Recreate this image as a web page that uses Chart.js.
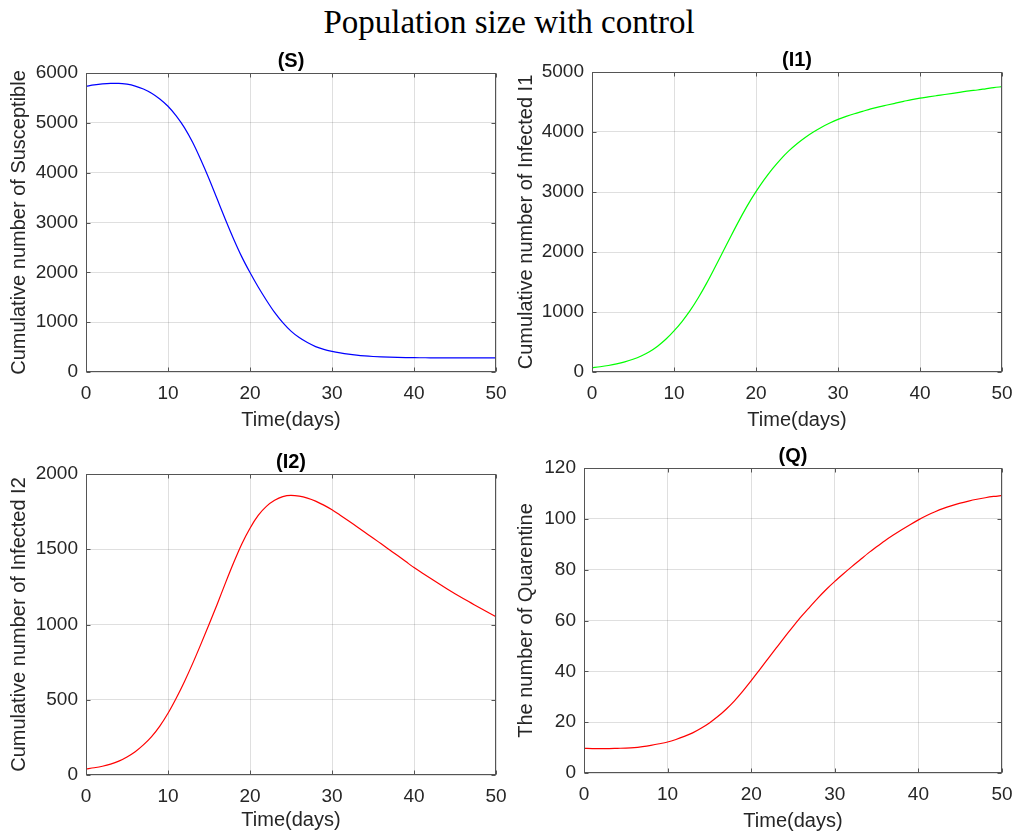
<!DOCTYPE html>
<html>
<head>
<meta charset="utf-8">
<title>Population size with control</title>
<script src="https://cdn.jsdelivr.net/npm/chart.js@4/dist/chart.umd.min.js"></script>
<style>
  body { margin: 0; background: #fff; }
  #wrap { position: relative; width: 1018px; height: 837px; overflow: hidden; }
  #title {
    position: absolute; left: 0; top: 2px; width: 1018px;
    text-align: center; line-height: 40px;
    font-family: "Liberation Serif", "Times New Roman", serif; font-size: 33px; color: #000;
  }
  canvas { position: absolute; }
</style>
</head>
<body>
<div id="wrap">
  <div id="title">Population size with control</div>
  <canvas id="plotS" width="509" height="400" style="left:0;top:40px"></canvas>
  <canvas id="plotI1" width="509" height="400" style="left:509px;top:40px"></canvas>
  <canvas id="plotI2" width="509" height="397" style="left:0;top:440px"></canvas>
  <canvas id="plotQ" width="509" height="397" style="left:509px;top:440px"></canvas>
</div>
<script>
// simulation output, one value per day
var days = [0, 1, 2, 3, 4, 5, 6, 7, 8, 9, 10, 11, 12, 13, 14, 15, 16, 17, 18, 19, 20,
            21, 22, 23, 24, 25, 26, 27, 28, 29, 30, 31, 32, 33, 34, 35, 36, 37, 38, 39, 40,
            41, 42, 43, 44, 45, 46, 47, 48, 49, 50];

var susceptible = [5733, 5762, 5782, 5792, 5793, 5775, 5738, 5680, 5595, 5480, 5333,
                   5140, 4905, 4610, 4260, 3880, 3470, 3060, 2670, 2310, 1995,
                   1705, 1440, 1195, 990, 820, 690, 590, 510, 455, 415,
                   383, 357, 337, 322, 311, 303, 297, 292, 289, 287,
                   286, 285, 285, 284, 284, 284, 283, 283, 283, 283];

var infected1 = [72, 88, 108, 134, 168, 212, 268, 338, 430, 545, 685,
                 845, 1030, 1245, 1485, 1745, 2012, 2280, 2540, 2785, 3005,
                 3205, 3385, 3545, 3685, 3805, 3910, 4000, 4080, 4150, 4210,
                 4260, 4305, 4345, 4385, 4420, 4450, 4480, 4510, 4540, 4565,
                 4585, 4605, 4625, 4645, 4665, 4685, 4700, 4720, 4740, 4755];

var infected2 = [40, 48, 58, 72, 92, 120, 155, 200, 255, 325, 410,
                 510, 620, 740, 868, 1000, 1135, 1275, 1410, 1535, 1640,
                 1725, 1785, 1825, 1850, 1858, 1853, 1840, 1820, 1793, 1762,
                 1726, 1689, 1651, 1613, 1575, 1536, 1497, 1458, 1418, 1378,
                 1342, 1307, 1272, 1238, 1205, 1173, 1142, 1111, 1081, 1052];

var quarantine = [9.7, 9.6, 9.6, 9.6, 9.7, 9.8, 10.0, 10.4, 10.9, 11.5, 12.2,
                  13.2, 14.4, 15.8, 17.6, 19.7, 22.2, 25.1, 28.4, 32.2, 36.3,
                  40.6, 44.9, 49.2, 53.5, 57.6, 61.6, 65.3, 68.9, 72.3, 75.4,
                  78.3, 81.1, 83.8, 86.5, 89.0, 91.4, 93.6, 95.7, 97.7, 99.6,
                  101.3, 102.8, 104.1, 105.2, 106.2, 107.0, 107.7, 108.3, 108.8, 109.2];

var dayTicks = [0, 10, 20, 30, 40, 50];
var sTicks = [0, 1000, 2000, 3000, 4000, 5000, 6000];
var i1Ticks = [0, 1000, 2000, 3000, 4000, 5000];
var i2Ticks = [0, 500, 1000, 1500, 2000];
var qTicks = [0, 20, 40, 60, 80, 100, 120];

var textColor = '#262626';
var gridColor = 'rgba(38,38,38,0.15)';
var fontFamily = '"Liberation Sans", Arial, Helvetica, sans-serif';

// box around the axes, inward tick marks and the bold subplot title
const framePlugin = {
    id: 'frame',
    afterDatasetsDraw(chart, args, opts) {
        const ctx = chart.ctx;
        const c = chart.chartArea;
        const xs = chart.scales.x, ys = chart.scales.y;
        const L = Math.round(c.left) + 0.5, R = Math.round(c.right) - 0.5;
        const T = Math.round(c.top) + 0.5, B = Math.round(c.bottom) - 0.5;
        ctx.save();
        ctx.strokeStyle = opts.boxColor;
        ctx.lineWidth = 1;
        ctx.beginPath();
        xs.ticks.forEach(t => {
            const px = Math.round(xs.getPixelForValue(t.value)) + 0.5;
            ctx.moveTo(px, B); ctx.lineTo(px, B - 4);
            ctx.moveTo(px, T); ctx.lineTo(px, T + 4);
        });
        ys.ticks.forEach(t => {
            const py = Math.round(ys.getPixelForValue(t.value)) + 0.5;
            ctx.moveTo(L, py); ctx.lineTo(L + 4, py);
            ctx.moveTo(R, py); ctx.lineTo(R - 4, py);
        });
        ctx.stroke();
        ctx.strokeRect(L, T, R - L, B - T);

        ctx.fillStyle = '#000';
        ctx.font = 'bold 20px ' + fontFamily;
        ctx.textAlign = 'center';
        ctx.textBaseline = 'alphabetic';
        ctx.fillText(opts.title, (c.left + c.right) / 2, c.top - 6);
        ctx.restore();
    }
};

function makePlot(id, cfg) {
    const canvas = document.getElementById(id);
    const W = canvas.width, H = canvas.height;
    const area = cfg.area;
    const points = days.map((d, i) => ({ x: d, y: cfg.values[i] }));

    return new Chart(canvas.getContext('2d'), {
        type: 'line',
        data: {
            datasets: [{
                data: points,
                borderColor: cfg.color,
                borderWidth: 1.2,
                pointRadius: 0,
                cubicInterpolationMode: 'monotone',
                fill: false
            }]
        },
        options: {
            responsive: false,
            animation: false,
            layout: { padding: { left: 0, top: area.top, right: W - area.right, bottom: 0 } },
            plugins: {
                legend: { display: false },
                tooltip: { enabled: false },
                frame: { title: cfg.title, boxColor: '#555555' }
            },
            scales: {
                x: {
                    type: 'linear',
                    min: 0,
                    max: 50,
                    afterBuildTicks: s => { s.ticks = dayTicks.map(v => ({ value: v })); },
                    afterFit: s => { s.height = H - area.bottom; s.paddingLeft = 0; s.paddingRight = 0; },
                    ticks: {
                        color: textColor,
                        font: { family: fontFamily, size: 19 },
                        padding: 10,
                        maxRotation: 0,
                        autoSkip: false,
                        callback: v => String(v)
                    },
                    grid: { color: gridColor, drawTicks: false },
                    border: { display: false },
                    title: {
                        display: true,
                        text: 'Time(days)',
                        color: textColor,
                        font: { family: fontFamily, size: 20 },
                        padding: { top: 0, bottom: cfg.xTitlePad }
                    }
                },
                y: {
                    type: 'linear',
                    min: cfg.ticks[0],
                    max: cfg.ticks[cfg.ticks.length - 1],
                    afterBuildTicks: s => { s.ticks = cfg.ticks.map(v => ({ value: v })); },
                    afterFit: s => { s.width = area.left; s.paddingTop = 0; s.paddingBottom = 0; },
                    ticks: {
                        color: textColor,
                        font: { family: fontFamily, size: 19 },
                        padding: 8,
                        autoSkip: false,
                        callback: v => String(v)
                    },
                    grid: { color: gridColor, drawTicks: false },
                    border: { display: false },
                    title: {
                        display: true,
                        text: cfg.yLabel,
                        color: textColor,
                        font: { family: fontFamily, size: 20 },
                        padding: { top: cfg.yTitlePad, bottom: 0 }
                    }
                }
            }
        },
        plugins: [framePlugin]
    });
}

makePlot('plotS', {
    title: '(S)', values: susceptible, color: '#0000ff', ticks: sTicks,
    yLabel: 'Cumulative number of Susceptible',
    area: { left: 86, right: 496, top: 33, bottom: 332 },
    xTitlePad: 8, yTitlePad: 7.5
});

makePlot('plotI1', {
    title: '(I1)', values: infected1, color: '#00ff00', ticks: i1Ticks,
    yLabel: 'Cumulative number of Infected I1',
    area: { left: 83, right: 493, top: 32, bottom: 332 },
    xTitlePad: 8, yTitlePad: 5.5
});

makePlot('plotI2', {
    title: '(I2)', values: infected2, color: '#ff0000', ticks: i2Ticks,
    yLabel: 'Cumulative number of Infected I2',
    area: { left: 86, right: 496, top: 34, bottom: 335 },
    xTitlePad: 4.5, yTitlePad: 7.5
});

makePlot('plotQ', {
    title: '(Q)', values: quarantine, color: '#ff0000', ticks: qTicks,
    yLabel: 'The number of Quarentine',
    area: { left: 75, right: 493, top: 28, bottom: 333 },
    xTitlePad: 3.5, yTitlePad: 5.5
});
</script>
</body>
</html>
